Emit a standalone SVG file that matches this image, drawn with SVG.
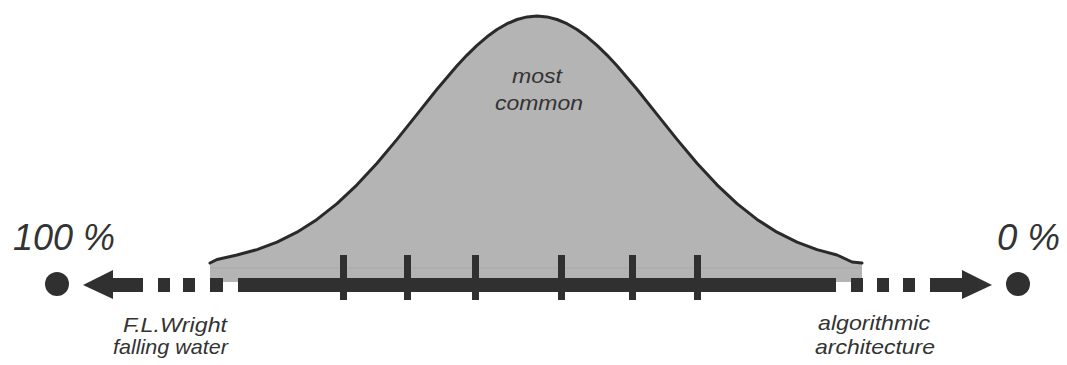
<svg xmlns="http://www.w3.org/2000/svg" width="1067" height="365" viewBox="0 0 1067 365">
<style>
.lbl{font-family:"Liberation Sans",Arial,sans-serif;font-style:italic;fill:#333333}
.big{font-size:37px}
.sm{font-size:21px}
.dk{fill:#303030}
</style>
<defs>
<path id="bell" d="M210,263 L217,259.5 L237,255 L257,249.6 L277,242.1 L297,232.2 L317,219.4 L337,203.6 L357,184.8 L377,163.2 L397,139.4 L417,114.4 L437,89.3 L457,65.8 L467,55.1 L477,45.4 L487,36.8 L497,29.5 L507,23.7 L517,19.5 L527,16.9 L537,16 L547,16.9 L557,19.5 L567,23.7 L577,29.5 L587,36.8 L597,45.4 L607,55.1 L617,65.8 L637,89.3 L657,114.4 L677,139.4 L697,163.2 L717,184.8 L737,203.6 L757,219.4 L777,232.2 L797,242.1 L817,249.6 L837,255 L852,262 L862,263"/>
</defs>
<rect width="1067" height="365" fill="#ffffff"/>
<g id="curve">
<path d="M210,263 L217,259.5 L237,255 L257,249.6 L277,242.1 L297,232.2 L317,219.4 L337,203.6 L357,184.8 L377,163.2 L397,139.4 L417,114.4 L437,89.3 L457,65.8 L467,55.1 L477,45.4 L487,36.8 L497,29.5 L507,23.7 L517,19.5 L527,16.9 L537,16 L547,16.9 L557,19.5 L567,23.7 L577,29.5 L587,36.8 L597,45.4 L607,55.1 L617,65.8 L637,89.3 L657,114.4 L677,139.4 L697,163.2 L717,184.8 L737,203.6 L757,219.4 L777,232.2 L797,242.1 L817,249.6 L837,255 L852,262 L862,263 L862,282 L210,282 Z" fill="#b4b4b4"/>
<line x1="210" y1="268" x2="862" y2="268" stroke="#a9a9a9" stroke-width="1"/>
<use href="#bell" fill="none" stroke="#2a2a2a" stroke-width="3" stroke-linejoin="round" stroke-linecap="round"/>
<text class="lbl sm" x="512" y="83" textLength="50" lengthAdjust="spacingAndGlyphs">most</text>
<text class="lbl sm" x="495" y="110" textLength="88" lengthAdjust="spacingAndGlyphs">common</text>
</g>
<g id="connectors">
<rect class="dk" x="238" y="278" width="598" height="14"/>
<rect class="dk" x="340" y="255" width="7" height="45"/>
<rect class="dk" x="404" y="255" width="7" height="45"/>
<rect class="dk" x="472" y="255" width="7" height="45"/>
<rect class="dk" x="558" y="255" width="7" height="45"/>
<rect class="dk" x="629" y="255" width="7" height="45"/>
<rect class="dk" x="694" y="255" width="7" height="45"/>
<rect class="dk" x="158" y="278" width="12" height="14"/>
<rect class="dk" x="183" y="278" width="12" height="14"/>
<rect class="dk" x="210" y="278" width="13" height="14"/>
<rect class="dk" x="112" y="278" width="31" height="14"/>
<polygon class="dk" points="83,285 113,270 113,299"/>
<rect class="dk" x="851" y="278" width="12" height="14"/>
<rect class="dk" x="877" y="278" width="12" height="14"/>
<rect class="dk" x="903" y="278" width="12" height="14"/>
<rect class="dk" x="930" y="278" width="33" height="14"/>
<polygon class="dk" points="992,285 962,270 962,299"/>
</g>
<g id="left-node">
<circle class="dk" cx="57" cy="284" r="12"/>
<text class="lbl big" x="13" y="250" textLength="102" lengthAdjust="spacingAndGlyphs">100 %</text>
<text class="lbl sm" x="123" y="332" textLength="104" lengthAdjust="spacingAndGlyphs">F.L.Wright</text>
<text class="lbl sm" x="113" y="354" textLength="115" lengthAdjust="spacingAndGlyphs">falling water</text>
</g>
<g id="right-node">
<circle class="dk" cx="1018" cy="284" r="12"/>
<text class="lbl big" x="997" y="250" textLength="63" lengthAdjust="spacingAndGlyphs">0 %</text>
<text class="lbl sm" x="818" y="330" textLength="112" lengthAdjust="spacingAndGlyphs">algorithmic</text>
<text class="lbl sm" x="815" y="354" textLength="120" lengthAdjust="spacingAndGlyphs">architecture</text>
</g>
</svg>
